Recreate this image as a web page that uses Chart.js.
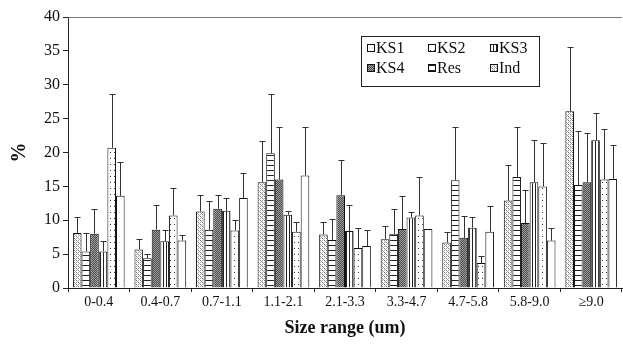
<!DOCTYPE html>
<html>
<head>
<meta charset="utf-8">
<script src="https://cdn.jsdelivr.net/npm/chart.js@4"></script>
<style>
  body { margin: 0; background: #fff; }
  #wrap { width: 623px; height: 346px; }
</style>
</head>
<body>
<div id="wrap"><canvas id="sizeChart"></canvas></div>
<script>
const categories = ['0-0.4', '0.4-0.7', '0.7-1.1', '1.1-2.1', '2.1-3.3', '3.3-4.7', '4.7-5.8', '5.8-9.0', '≥9.0'];
const yTicks = [0, 5, 10, 15, 20, 25, 30, 35, 40];

// bar values and upper ends of the error bars
const ind    = [8.1, 5.7, 11.3, 15.6, 7.9, 7.2, 6.7, 12.9, 26.1];
const indErr = [10.5, 7.2, 13.8, 21.7, 9.7, 9.2, 8.3, 18.2, 35.5];
const res    = [5.4, 4.4, 8.6, 19.9, 7.1, 8.0, 15.9, 16.4, 15.2];
const resErr = [8.1, 5.0, 12.9, 28.7, 10.2, 11.7, 23.7, 23.8, 23.1];
const ks4    = [8.0, 8.6, 11.7, 16.0, 13.7, 8.7, 7.4, 9.6, 15.6];
const ks4Err = [11.6, 12.2, 13.8, 23.7, 18.9, 13.6, 10.6, 14.4, 22.9];
const ks3    = [5.4, 6.9, 11.4, 10.8, 8.4, 10.4, 8.9, 15.6, 21.8];
const ks3Err = [6.9, 8.6, 13.3, 11.4, 12.3, 11.2, 10.5, 21.9, 25.9];
const ks2    = [20.7, 10.7, 8.5, 8.3, 5.9, 10.7, 3.7, 15.0, 16.0];
const ks2Err = [28.7, 14.8, 10.1, 9.7, 8.8, 16.4, 4.7, 21.4, 23.4];
const ks1    = [13.6, 7.0, 13.3, 16.6, 6.2, 8.7, 8.3, 7.0, 16.1];
const ks1Err = [18.6, 7.8, 17.0, 23.8, 8.6, 8.7, 12.1, 8.9, 21.1];

// fill patterns
function makePattern(w, h, draw) {
    const c = document.createElement('canvas');
    c.width = w; c.height = h;
    const g = c.getContext('2d');
    g.fillStyle = '#fff';
    g.fillRect(0, 0, w, h);
    draw(g);
    return g.createPattern(c, 'repeat');
}
const fills = {
    KS1: '#fff',
    KS2: makePattern(4, 6, g => { g.fillStyle = '#333'; g.fillRect(2, 2, 1, 1); }),
    KS3: makePattern(3, 4, g => { g.fillStyle = '#222'; g.fillRect(1, 0, 1, 4); }),
    KS4: makePattern(2, 2, g => { g.fillStyle = '#4a4a4a'; g.fillRect(0, 0, 2, 2); g.fillStyle = '#a0a0a0'; g.fillRect(0, 0, 1, 1); g.fillRect(1, 1, 1, 1); }),
    Res: makePattern(4, 5, g => { g.fillStyle = '#222'; g.fillRect(0, 0, 4, 1); }),
    Ind: makePattern(4, 4, g => { g.fillStyle = '#777'; g.fillRect(0, 0, 1, 1); g.fillRect(2, 2, 1, 1); g.fillStyle = '#aaa'; g.fillRect(1, 1, 1, 1); g.fillRect(3, 3, 1, 1); g.fillRect(2, 0, 1, 1); g.fillRect(0, 2, 1, 1); })
};

function ds(label, data, err) {
    return {
        label: label,
        data: data,
        err: err,
        backgroundColor: fills[label],
        borderColor: '#111',
        borderWidth: 1,
        categoryPercentage: 0.84,
        barPercentage: 1.0
    };
}

const errorBars = {
    id: 'errorBars',
    afterDatasetsDraw(chart) {
        const ctx = chart.ctx;
        const y = chart.scales.y;
        ctx.save();
        ctx.strokeStyle = '#333';
        ctx.lineWidth = 1;
        chart.data.datasets.forEach((d, i) => {
            chart.getDatasetMeta(i).data.forEach((bar, j) => {
                if (d.err[j] <= d.data[j]) return;
                const x = Math.round(bar.x) + 0.5;
                const yt = Math.round(y.getPixelForValue(d.err[j])) + 0.5;
                ctx.beginPath();
                ctx.moveTo(x, bar.y);
                ctx.lineTo(x, yt);
                ctx.moveTo(x - 3, yt);
                ctx.lineTo(x + 3, yt);
                ctx.stroke();
            });
        });
        ctx.restore();
    }
};

const frameAndLegend = {
    id: 'frameAndLegend',
    afterDraw(chart) {
        const ctx = chart.ctx;
        const a = chart.chartArea;
        ctx.save();
        ctx.strokeStyle = '#777';
        ctx.lineWidth = 1;
        ctx.beginPath();
        ctx.moveTo(a.left, Math.round(a.top) + 0.5);
        ctx.lineTo(a.right, Math.round(a.top) + 0.5);
        ctx.stroke();

        // legend box
        ctx.strokeStyle = '#222';
        ctx.fillStyle = '#fff';
        ctx.fillRect(361, 36, 179, 51);
        ctx.strokeRect(361.5, 36.5, 178, 50);
        const items = [['KS1', 367, 48], ['KS2', 428, 48], ['KS3', 490, 48],
                       ['KS4', 367, 68], ['Res', 428, 68], ['Ind', 490, 68]];
        ctx.font = '16px "Liberation Serif"';
        ctx.textBaseline = 'middle';
        items.forEach(([name, x, yy]) => {
            ctx.fillStyle = fills[name];
            ctx.fillRect(x, yy - 4, 8, 8);
            ctx.strokeStyle = '#111';
            ctx.strokeRect(x + 0.5, yy - 3.5, 7, 7);
            ctx.fillStyle = '#111';
            ctx.fillText(name, x + 9, yy + 1);
        });
        ctx.restore();
    }
};

new Chart(document.getElementById('sizeChart'), {
    type: 'bar',
    data: {
        labels: categories,
        datasets: [
            ds('Ind', ind, indErr),
            ds('Res', res, resErr),
            ds('KS4', ks4, ks4Err),
            ds('KS3', ks3, ks3Err),
            ds('KS2', ks2, ks2Err),
            ds('KS1', ks1, ks1Err)
        ]
    },
    options: {
        responsive: true,
        maintainAspectRatio: false,
        animation: false,
        layout: { padding: { left: 8, right: 1, top: 17, bottom: 6 } },
        plugins: {
            legend: { display: false },
            tooltip: { enabled: false }
        },
        scales: {
            x: {
                grid: { drawOnChartArea: false, drawTicks: true, tickLength: 4, color: '#222', offset: true },
                border: { color: '#222' },
                ticks: { color: '#111', padding: 2, maxRotation: 0, font: { family: 'Liberation Serif', size: 14 } },
                title: { display: true, text: 'Size range (um)', color: '#111', padding: { top: 2, bottom: 1 },
                         font: { family: 'Liberation Serif', size: 18, weight: 'bold' } },
                afterFit: s => { s.height = 52; }
            },
            y: {
                min: 0,
                max: 40,
                afterBuildTicks: s => { s.ticks = yTicks.map(v => ({ value: v })); },
                grid: { drawOnChartArea: false, drawTicks: true, tickLength: 5, color: '#222' },
                border: { color: '#222' },
                ticks: { color: '#111', padding: 3, font: { family: 'Liberation Serif', size: 16 } },
                title: { display: true, text: '%', color: '#111', padding: 0,
                         font: { family: 'Liberation Serif', size: 20, weight: 'bold' } },
                afterFit: s => { s.width = 60; }
            }
        }
    },
    plugins: [errorBars, frameAndLegend]
});
</script>
</body>
</html>
